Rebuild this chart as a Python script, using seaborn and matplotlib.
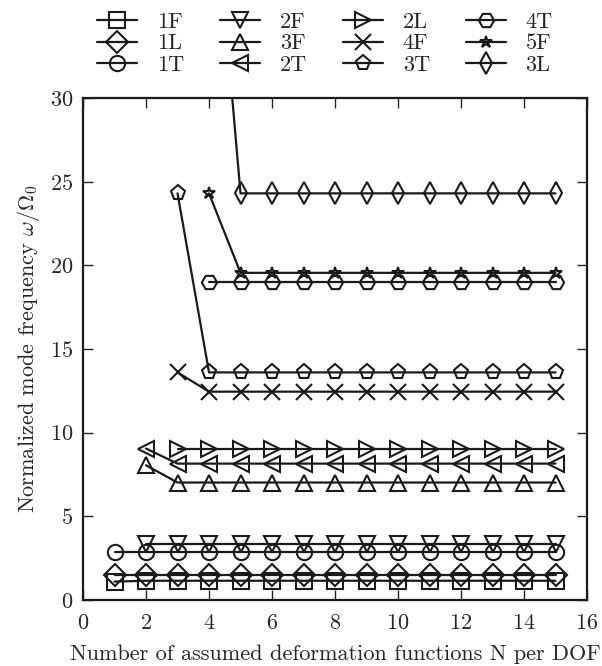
import seaborn as sns
import matplotlib.pyplot as plt
import pandas as pd
import numpy as np

sns.set_theme(style="ticks")
plt.rcParams['font.family'] = ['cmr10', 'DejaVu Serif']
plt.rcParams['mathtext.fontset'] = 'cm'
plt.rcParams['axes.formatter.use_mathtext'] = True

# =====================
# DATA
# =====================
modes = ['1F', '1L', '1T', '2F', '3F', '2T', '2L', '4F', '3T', '4T', '5F', '3L']
markers = ['s', 'D', 'o', 'v', '^', '<', '>', 'x', 'p', 'H', '*', 'd']
start_n = [1, 1, 1, 2, 2, 2, 3, 3, 3, 4, 4, 4]
first_val = [1.1, 1.5, 2.87, 3.35, 8.05, 9.05, 9.02, 13.6, 24.3, 18.98, 24.3, 46.0]
conv_val = [1.15, 1.5, 2.87, 3.35, 7.02, 8.15, 9.02, 12.45, 13.6, 18.98, 19.55, 24.3]
n_max = 15

rows = []
for m, s, f, c in zip(modes, start_n, first_val, conv_val):
    for n in range(s, n_max + 1):
        rows.append({'N': n, 'freq': f if n == s else c, 'mode': m})
df = pd.DataFrame(rows)

fs = 16

fig = plt.figure(figsize=(6.02, 6.66), dpi=100)
ax = fig.add_axes([0.1379, 0.0991, 0.8372, 0.7538])

for m, mk in zip(modes, markers):
    sns.lineplot(data=df[df['mode'] == m], x='N', y='freq', ax=ax,
                 color='k', linewidth=1.6, marker=mk, markersize=11 if mk != '*' else 9,
                 fillstyle='none', markeredgecolor='k', markeredgewidth=1.5,
                 label=m, clip_on=True)

ax.set_xlim(0, 16)
ax.set_ylim(0, 30)
ax.set_xticks(range(0, 17, 2))
ax.set_yticks(range(0, 31, 5))
ax.tick_params(direction='in', top=True, right=True, length=7, width=1,
               labelsize=fs)
ax.tick_params(axis='x', pad=10)
ax.tick_params(axis='y', pad=7)
for sp in ax.spines.values():
    sp.set_linewidth(1.6)
    sp.set_color('k')

ax.set_xlabel('Number of assumed deformation functions N per DOF', fontsize=fs, labelpad=8)
ax.set_ylabel(r'Normalized mode frequency $\omega/\Omega_0$', fontsize=fs, labelpad=6)

ax.legend(ncol=4, loc='lower center', bbox_to_anchor=(0.48, 1.0), frameon=False,
          fontsize=fs, handlelength=1.8, columnspacing=1.6, labelspacing=0.08,
          handletextpad=0.9, borderaxespad=0.65)

plt.savefig('out.png', dpi=100)
